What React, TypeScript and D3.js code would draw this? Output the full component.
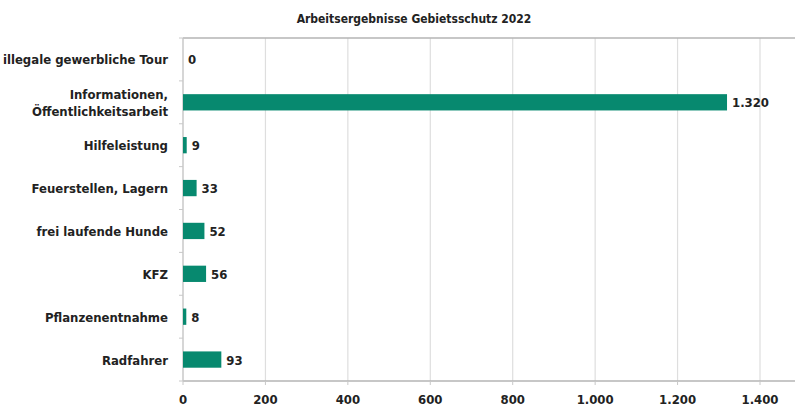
import React from "react";
import * as d3 from "d3";

const title = "Arbeitsergebnisse Gebietsschutz 2022";
const categories: string[][] = [
  ["illegale gewerbliche Tour"],
  ["Informationen,", "Öffentlichkeitsarbeit"],
  ["Hilfeleistung"],
  ["Feuerstellen, Lagern"],
  ["frei laufende Hunde"],
  ["KFZ"],
  ["Pflanzenentnahme"],
  ["Radfahrer"],
];
const values: number[] = [0, 1320, 9, 33, 52, 56, 8, 93];
const xTicks: number[] = [0, 200, 400, 600, 800, 1000, 1200, 1400];

const W = 795;
const H = 409;
const left = 183;
const right = 760;
const top = 38;
const bottom = 381;
const FONT = "'DejaVu Sans Condensed', 'DejaVu Sans', sans-serif";
const BAR = "#07896f";
const fmt = (v: number) => d3.format(",")(v).replace(/,/g, ".");

const txt = { fontFamily: FONT, fontStretch: "condensed", fill: "#222" } as const;

export default function App() {
  const x = d3.scaleLinear().domain([0, 1400]).range([left, right]);
  const idx = categories.map((_, i) => String(i));
  const y = d3.scaleBand().domain(idx).range([top, bottom]).paddingInner(0.62).paddingOuter(0.31);
  const band = d3.scaleBand().domain(idx).range([top, bottom]);
  const boundaries = d3.range(categories.length + 1).map((i) => top + i * band.step());

  return (
    <svg width={W} height={H} style={{ position: "absolute", left: 0, top: 0, background: "#fff" }}>
      <text x={414} y={23} textAnchor="middle" fontSize={12} fontWeight={600} {...txt}>
        {title}
      </text>
      {xTicks.map((t) => (
        <line key={"g" + t} x1={x(t)} x2={x(t)} y1={top} y2={bottom} stroke="#dedede" strokeWidth={1.2} />
      ))}
      <line x1={left} x2={W} y1={top} y2={top} stroke="#b5b5b5" strokeWidth={1.5} />
      <line x1={left} x2={W} y1={bottom} y2={bottom} stroke="#b5b5b5" strokeWidth={1.5} />
      <line x1={left} x2={left} y1={top} y2={bottom} stroke="#c8c8c8" strokeWidth={1.2} />
      {boundaries.map((b, i) => (
        <line key={"t" + i} x1={left - 4} x2={left} y1={b} y2={b} stroke="#c8c8c8" strokeWidth={1} />
      ))}
      {xTicks.map((t) => (
        <g key={"xt" + t}>
          <line x1={x(t)} x2={x(t)} y1={bottom} y2={bottom + 4} stroke="#c8c8c8" />
          <text x={x(t)} y={404} textAnchor="middle" fontSize={13} fontWeight={600} {...txt}>
            {fmt(t)}
          </text>
        </g>
      ))}
      {values.map((v, i) => {
        const yy = y(String(i))!;
        const cy = band(String(i))! + band.step() / 2;
        return (
          <g key={"b" + i}>
            {v > 0 && <rect x={x(0)} y={yy} width={x(v) - x(0)} height={y.bandwidth()} fill={BAR} />}
            <text x={x(v) + 5} y={cy + 5} fontSize={13} fontWeight={600} {...txt}>
              {fmt(v)}
            </text>
            <text textAnchor="end" fontSize={13} fontWeight={600} {...txt}>
              {categories[i].map((line, j) => (
                <tspan key={j} x={168} y={cy + 5 + (j - (categories[i].length - 1) / 2) * 17}>
                  {line}
                </tspan>
              ))}
            </text>
          </g>
        );
      })}
    </svg>
  );
}
